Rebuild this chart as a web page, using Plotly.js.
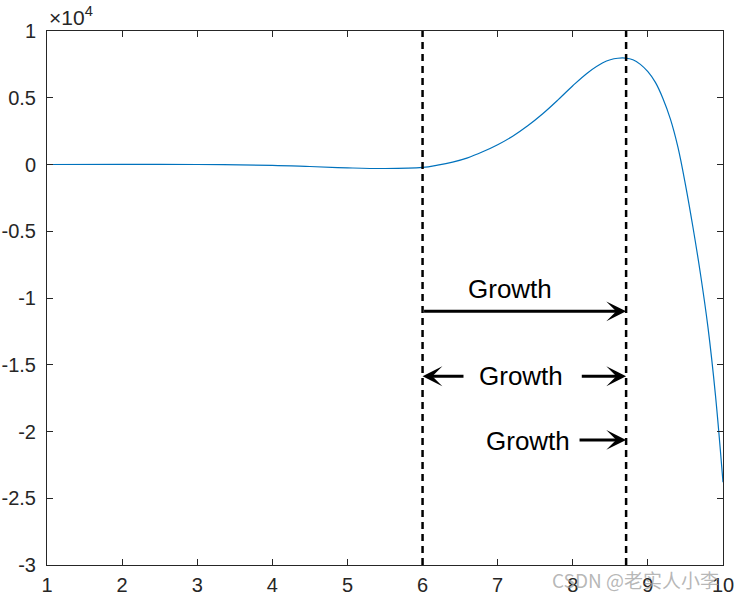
<!DOCTYPE html>
<html>
<head>
<meta charset="utf-8">
<script src="https://cdn.plot.ly/plotly-3.0.1.min.js"></script>
<style>html,body{margin:0;padding:0;background:#fff;} #plot{width:737px;height:597px;}</style>
</head>
<body>
<div id="plot"></div>
<script>
// curve samples
var curveX = [1, 2, 3, 4, 4.5, 5, 5.5, 6.0, 6.2, 6.4, 6.6, 6.8, 7.0, 7.2, 7.4, 7.6, 7.8, 8.0, 8.2, 8.4, 8.5, 8.6, 8.7, 8.8, 8.9, 9.0, 9.1, 9.2, 9.3, 9.4, 9.5, 9.6, 9.7, 9.8, 9.9, 10];
var curveY = [0, 10, 0, -60, -150, -250, -300, -220, -50, 180, 500, 950, 1480, 2120, 2900, 3800, 4820, 5900, 6880, 7620, 7850, 7960, 7970, 7850, 7500, 6950, 6150, 4950, 3400, 1300, -1500, -4700, -8200, -12200, -17300, -23800];

// vertical dashed marker lines
var markerX = [6, 8.71];

// arrow annotations
var arrowY = [-11000, -15860, -20630];
var labelText = ['Growth', 'Growth', 'Growth'];
var labelX = [7.165, 7.31, 7.40];
var labelY = [-9290, -15860, -20700];
var arrowTails = [6, 6.565, 8.10, 8.07];

var xTicks = [1, 2, 3, 4, 5, 6, 7, 8, 9, 10];
var yTicks = [-30000, -25000, -20000, -15000, -10000, -5000, 0, 5000, 10000];
var yTickText = ['-3', '-2.5', '-2', '-1.5', '-1', '-0.5', '0', '0.5', '1'];

var axisColor = '#262626';
var tickFont = {family: 'Liberation Sans, Arial, sans-serif', size: 20, color: axisColor};

var trace = {
  x: curveX, y: curveY, type: 'scatter', mode: 'lines',
  line: {color: '#0072BD', width: 1.2, shape: 'spline', smoothing: 1},
  hoverinfo: 'skip'
};

var shapes = markerX.map(function (mx) {
  return {type: 'line', xref: 'x', yref: 'y', x0: mx, x1: mx, y0: -30000, y1: 10000,
          line: {color: '#000', width: 2.5, dash: '7px,5px'}};
});

function arrow(tipX, tailX, y) {
  return {x: tipX, y: y, ax: tailX, ay: y, xref: 'x', yref: 'y', axref: 'x', ayref: 'y',
          text: '', showarrow: true, arrowhead: 3, arrowsize: 1.1, arrowwidth: 3,
          arrowcolor: '#000', standoff: 0, startstandoff: 0};
}

var annotations = [];
annotations.push(arrow(markerX[1], arrowTails[0], arrowY[0]));
annotations.push(arrow(markerX[0], arrowTails[1], arrowY[1]));
annotations.push(arrow(markerX[1], arrowTails[2], arrowY[1]));
annotations.push(arrow(markerX[1], arrowTails[3], arrowY[2]));
for (var i = 0; i < labelText.length; i++) {
  annotations.push({x: labelX[i], y: labelY[i], xref: 'x', yref: 'y', text: labelText[i],
    showarrow: false, xanchor: 'center', yanchor: 'middle',
    font: {family: 'Liberation Sans, Arial, sans-serif', size: 26, color: '#000'}});
}
annotations.push({x: 0, y: 1, xref: 'paper', yref: 'paper', xanchor: 'left', yanchor: 'bottom',
  text: '×10<sup>4</sup>', showarrow: false, yshift: 0,
  font: {family: 'Liberation Sans, Arial, sans-serif', size: 21, color: axisColor}});
annotations.push({x: 1, y: 0, xref: 'paper', yref: 'paper', xanchor: 'right', yanchor: 'top',
  text: 'CSDN @老实人小李', showarrow: false, yshift: 1, xshift: -2,
  font: {family: 'Noto Sans CJK SC, sans-serif', size: 19, color: 'rgba(160,160,160,0.75)'}});

var layout = {
  width: 737, height: 597,
  margin: {l: 47, r: 14, t: 31, b: 32, pad: 0},
  paper_bgcolor: '#fff', plot_bgcolor: '#fff',
  showlegend: false,
  xaxis: {range: [1, 10], tickvals: xTicks, ticks: 'inside', ticklen: 6, tickcolor: axisColor,
          showline: true, linecolor: axisColor, linewidth: 1, mirror: 'ticks',
          showgrid: false, zeroline: false, tickfont: tickFont, ticklabelstandoff: 2},
  yaxis: {range: [-30000, 10000], tickvals: yTicks, ticktext: yTickText, ticks: 'inside', ticklen: 6,
          tickcolor: axisColor, showline: true, linecolor: axisColor, linewidth: 1, mirror: 'ticks',
          showgrid: false, zeroline: false, tickfont: tickFont, ticklabelstandoff: 6},
  shapes: shapes,
  annotations: annotations
};

Plotly.newPlot('plot', [trace], layout, {displayModeBar: false, staticPlot: true});
</script>
</body>
</html>
